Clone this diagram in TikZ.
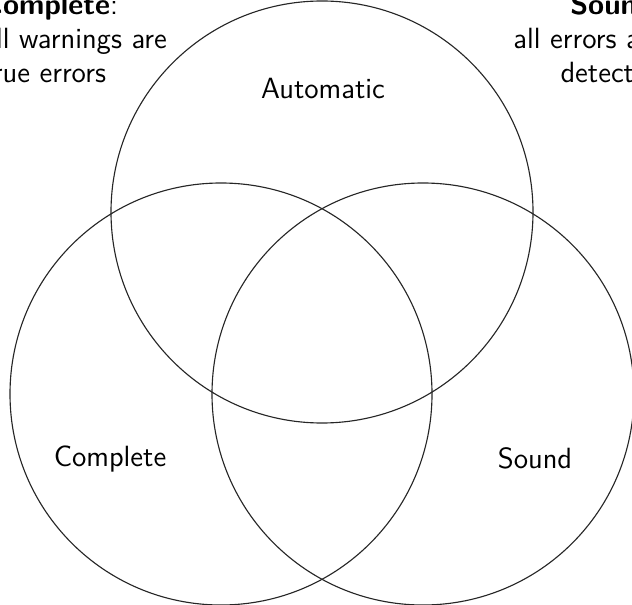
\documentclass[tikz,border=0pt]{standalone}
\begin{document}
\begin{tikzpicture}[x=0.4pt,y=-0.4pt,
  venn/.style={draw=black!85, line width=0.45pt, circle, minimum size=168.8pt, inner sep=0pt},
  lbl/.style={inner sep=0pt, font=\fontsize{11.7}{13.6}\selectfont\sffamily}]
\useasboundingbox (0,0) rectangle (632,605);
\node[venn] (auto) at (322,212) {};
\node[venn] (comp) at (221,394) {};
\node[venn] (snd)  at (423,394) {};
\node[lbl, anchor=base] (tauto) at (323,99) {Automatic};
\node[lbl, anchor=base] (tcomp) at (110,466) {Complete};
\node[lbl, anchor=base] (tsnd)  at (535,468) {Sound};
\node[lbl, anchor=base west] (c1) at (-18,15) {\textbf{Complete}:};
\node[lbl, anchor=base west] (c2) at (-18,49) {all warnings are};
\node[lbl, anchor=base west] (c3) at (-18,83) {true errors};
\node[lbl, anchor=base east] (s1) at (662,15) {\textbf{Sound}:};
\node[lbl, anchor=base east] (s2) at (662,49) {all errors are};
\node[lbl, anchor=base east] (s3) at (662,83) {detected};
\end{tikzpicture}
\end{document}
